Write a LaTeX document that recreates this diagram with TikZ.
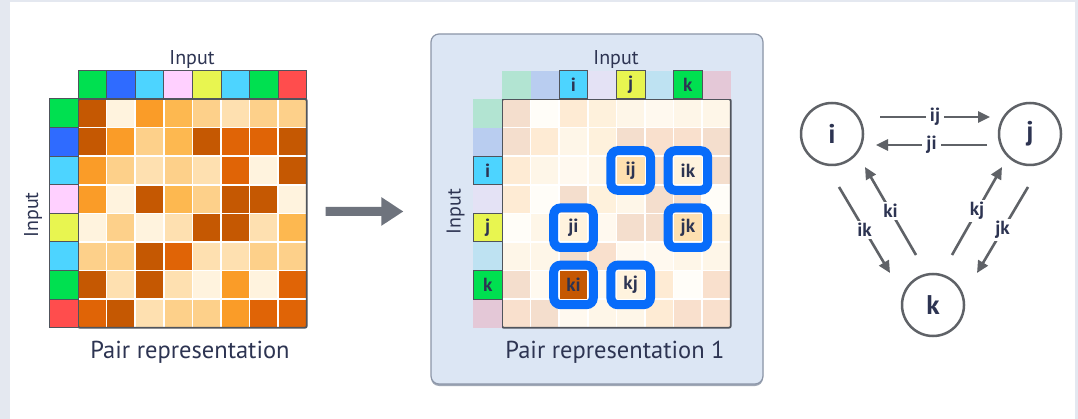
\documentclass[tikz,border=0pt]{standalone}
\usepackage{fontspec}
\setmainfont{PT Sans}
\usetikzlibrary{arrows.meta,calc}
\definecolor{cD}{RGB}{197,88,2}
\definecolor{cE}{RGB}{224,100,6}
\definecolor{cM}{RGB}{250,156,40}
\definecolor{cL}{RGB}{253,184,80}
\definecolor{cP}{RGB}{253,208,138}
\definecolor{cQ}{RGB}{254,224,176}
\definecolor{cW}{RGB}{255,243,222}
\definecolor{navy}{RGB}{45,52,82}
\definecolor{edgegray}{RGB}{95,98,103}
\definecolor{arrowgray}{RGB}{110,115,125}
\definecolor{hlblue}{RGB}{8,108,250}
\definecolor{panelbg}{RGB}{220,230,244}
\definecolor{panelborder}{RGB}{140,150,168}
\definecolor{panelshadow}{RGB}{160,168,182}
\definecolor{gridborder}{RGB}{80,84,92}
\definecolor{framegray}{RGB}{228,232,240}
\definecolor{sgreen}{RGB}{0,224,80}
\definecolor{sblue}{RGB}{47,107,255}
\definecolor{scyan}{RGB}{77,212,255}
\definecolor{spink}{RGB}{255,208,255}
\definecolor{syellow}{RGB}{232,245,80}
\definecolor{sred}{RGB}{255,77,77}
\definecolor{fgreen}{RGB}{178,228,210}
\definecolor{fblue}{RGB}{185,205,240}
\definecolor{flav}{RGB}{228,226,245}
\definecolor{fcyan}{RGB}{190,226,242}
\definecolor{fpink}{RGB}{228,200,215}
\begin{document}
\begin{tikzpicture}[x=1pt,y=-1pt,
  lbl/.style={font=\fontsize{20}{24}\selectfont, text=navy, inner sep=0},
  titletxt/.style={font=\fontsize{24.5}{28}\selectfont, text=navy, inner sep=0},
  celltxt/.style={font=\bfseries\fontsize{19}{22}\selectfont, text=navy, inner sep=0},
  stripcell/.style={draw=gridborder, line width=1},
  matframe/.style={draw=gridborder, line width=1.8, rounded corners=2, minimum width=228.8, minimum height=228.8, inner sep=0},
  gnode/.style={circle, draw=edgegray, line width=2.5, minimum size=62, inner sep=0, font=\bfseries\fontsize{27}{30}\selectfont, text=navy},
  edge/.style={draw=edgegray, line width=2.6, -{Triangle[length=12pt,width=11pt]}},
  elab/.style={fill=white, inner xsep=4, inner ysep=2, font=\bfseries\fontsize{19}{22}\selectfont, text=navy},
  hlbox/.style={draw=hlblue, line width=9, rounded corners=7},
  bigarrow/.style={draw=arrowgray, line width=9, -{Triangle[length=22pt,width=27pt]}},
  panelbox/.style={draw=panelborder, fill=panelbg, line width=1.2, rounded corners=8, minimum width=332, minimum height=350, inner sep=0}
]
\useasboundingbox (0,0) rectangle (1078,419);
\fill[framegray] (0,0) rectangle (1078,419);
\fill[white] (10,2) rectangle (1075,419);
\def\cs{28.6}
% ---------------- left matrix ----------------
\foreach \row [count=\r] in {{D,W,M,L,P,Q,P,P},{D,M,P,L,D,E,E,D},{M,P,Q,P,Q,E,W,D},{M,W,D,L,P,D,D,W},{W,P,W,Q,D,D,Q,L},{P,P,D,E,Q,Q,P,P},{D,Q,D,Q,W,M,W,E},{E,D,Q,P,P,M,E,E}} {
  \foreach \cl [count=\c] in \row {
    \fill[c\cl] ({78+(\c-1)*\cs+0.8},{99+(\r-1)*\cs+0.8}) rectangle +(27,27);
  }
}
\node[matframe] (leftmat) at (192.4,213.4) {};
\foreach \cl [count=\c] in {sgreen,sblue,scyan,spink,syellow,scyan,sgreen,sred} {
  \filldraw[stripcell, fill=\cl] ({78+(\c-1)*\cs},71) rectangle +(\cs,28);
  \filldraw[stripcell, fill=\cl] (49.4,{99+(\c-1)*\cs}) rectangle +(28.6,\cs);
}
\node[lbl, anchor=base] (lin1) at (192,65) {Input};
\node[lbl, rotate=90] (lin2) at (33,215) {Input};
\node[titletxt, anchor=base] (ltitle) at (190,358) {Pair representation};
% ---------------- middle panel ----------------
\fill[panelshadow, rounded corners=8] (431,36) rectangle (763,386);
\node[panelbox] (panel) at (597,209) {};
\fill[white] (502,99) rectangle (730.8,327.8);
\foreach \row [count=\r] in {{D,W,M,L,P,Q,P,P},{D,M,P,L,D,E,E,D},{M,P,Q,P,Q,E,W,D},{M,W,D,L,P,D,D,W},{W,P,W,Q,D,D,Q,L},{P,P,D,E,Q,Q,P,P},{D,Q,D,Q,W,M,W,E},{E,D,Q,P,P,M,E,E}} {
  \foreach \cl [count=\c] in \row {
    \fill[c\cl!20!white] ({502+(\c-1)*\cs+0.8},{99+(\r-1)*\cs+0.8}) rectangle +(27,27);
  }
}
\node[matframe] (midmat) at (616.4,213.4) {};
\foreach \cl [count=\c] in {fgreen,fblue,scyan,flav,syellow,fcyan,sgreen,fpink} {
  \fill[\cl] ({502+(\c-1)*\cs},71) rectangle +(\cs,28);
  \fill[\cl] (473.4,{99+(\c-1)*\cs}) rectangle +(28.6,\cs);
}
\foreach \c/\cl/\t in {3/scyan/i,5/syellow/j,7/sgreen/k} {
  \filldraw[stripcell, fill=\cl] ({502+(\c-1)*\cs},71) rectangle +(\cs,28);
  \node[celltxt] (top\t) at ({502+(\c-0.5)*\cs},85) {\t};
  \filldraw[stripcell, fill=\cl] (473.4,{99+(\c-1)*\cs}) rectangle +(28.6,\cs);
  \node[celltxt] (side\t) at (487.7,{99+(\c-0.5)*\cs}) {\t};
}
\foreach \r/\c/\cl/\t in {3/5/Q/ij,3/7/W/ik,5/3/W/ji,5/7/Q/jk,7/3/D/ki,7/5/W/kj} {
  \draw[hlbox] ({502+(\c-1)*\cs-5.5},{99+(\r-1)*\cs-5.5}) rectangle +({\cs+11},{\cs+11});
  \fill[c\cl] ({502+(\c-1)*\cs+0.5},{99+(\r-1)*\cs+0.5}) rectangle +(27.6,27.6);
  \node[celltxt] (cell\t) at ({502+(\c-0.5)*\cs},{99+(\r-0.5)*\cs}) {\t};
}
\node[lbl, anchor=base] (min1) at (616,65) {Input};
\node[lbl, rotate=90] (min2) at (455.5,211.5) {Input};
\node[titletxt, anchor=base] (mtitle) at (615,358) {Pair representation 1};
% ---------------- big arrow ----------------
\draw[bigarrow] ($(leftmat.east)+(18,-2)$) -- ($(panel.west)+(-27,2.5)$);
% ---------------- graph ----------------
\node[gnode] (i) at (832,134) {i};
\node[gnode] (j) at (1030,134) {j};
\node[gnode] (k) at (933,305) {k};
\draw[edge] ($(i)+(48,-17)$) -- node[elab] (lij) {ij} ($(j)+(-40,-17)$);
\draw[edge] ($(j)+(-43,11)$) -- node[elab] (lji) {ji} ($(i)+(44,11)$);
\draw[edge] ($(i)+(7,53)$) -- node[elab] (lik) {ik} ($(k)+(-43,-32)$);
\draw[edge] ($(k)+(-17,-50)$) -- node[elab] (lki) {ki} ($(i)+(33,33)$);
\draw[edge] ($(k)+(19,-50)$) -- node[elab] (lkj) {kj} ($(j)+(-28,33)$);
\draw[edge] ($(j)+(-2,53)$) -- node[elab] (ljk) {jk} ($(k)+(44,-32)$);
\end{tikzpicture}
\end{document}
